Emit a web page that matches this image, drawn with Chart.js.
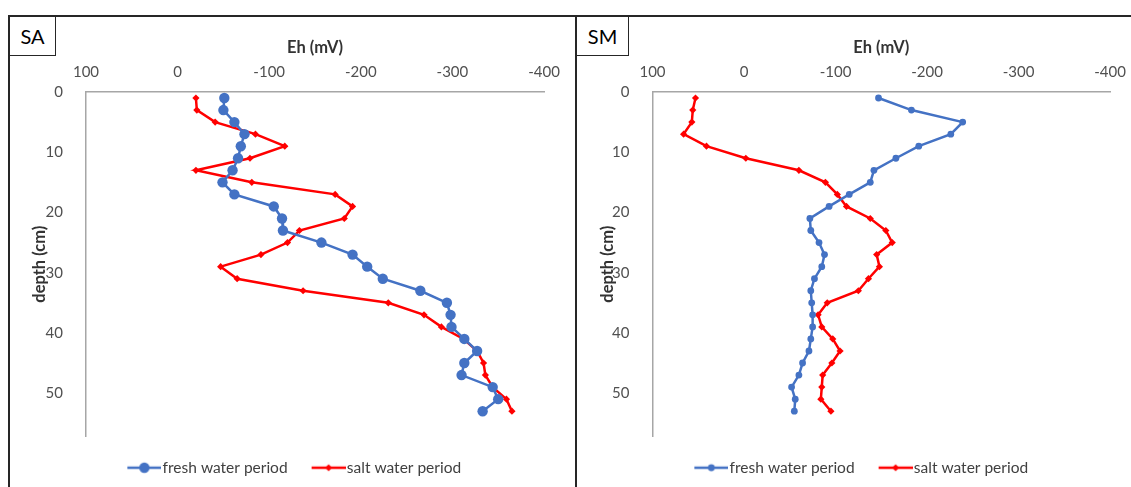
<!DOCTYPE html>
<html>
<head>
<meta charset="utf-8">
<script src="https://cdn.jsdelivr.net/npm/chart.js@4.4.0/dist/chart.umd.min.js"></script>
<style>
  html, body { margin: 0; padding: 0; width: 1131px; height: 487px; overflow: hidden; background: #fff; }
  .line { position: absolute; background: #262626; }
  .tag { position: absolute; box-sizing: border-box; border-right: 1.5px solid #262626; border-bottom: 1.5px solid #262626;
         font-family: Lato, sans-serif; font-size: 20px; color: #000; display: flex; align-items: center; justify-content: center; }
  canvas { position: absolute; top: 16px; }
</style>
</head>
<body>
<div class="line" style="left:8px;top:15px;width:1123px;height:2px"></div>
<div class="line" style="left:8px;top:15px;width:2px;height:472px"></div>
<div class="line" style="left:575px;top:15px;width:2px;height:472px"></div>
<div class="tag" style="left:10px;top:17px;width:46px;height:39px">SA</div>
<div class="tag" style="left:577px;top:17px;width:52px;height:39px">SM</div>
<canvas id="sa" width="566" height="471" style="left:9px"></canvas>
<canvas id="sm" width="555" height="471" style="left:576px"></canvas>
<script>
// depth of each sample (cm)
const depth = [1, 3, 5, 7, 9, 11, 13, 15, 17, 19, 21, 23, 25, 27, 29, 31, 33, 35, 37, 39, 41, 43, 45, 47, 49, 51, 53];

// Eh (mV), station SA
const saFresh = [-51, -50, -62, -73, -69, -66, -60, -49, -62, -105, -114, -115, -157, -191, -207, -224, -265, -294, -298, -299, -313, -327, -313, -310, -344, -350, -333];
const saSalt = [-20, -21, -41, -85, -117, -79, -20, -81, -172, -191, -182, -133, -120, -91, -47, -65, -137, -230, -269, -288, -312, -327, -334, -336, -344, -359, -365];

// Eh (mV), station SM
const smFresh = [-147, -183, -239, -226, -191, -166, -142, -138, -115, -93, -72, -73, -82, -88, -85, -77, -73, -74, -75, -75, -73, -71, -64, -60, -52, -56, -55];
const smSalt = [53, 56, 57, 66, 41, -2, -60, -89, -102, -112, -138, -155, -162, -145, -148, -136, -125, -91, -81, -85, -97, -105, -96, -86, -85, -84, -95];

const seriesNames = ['fresh water period', 'salt water period'];
const BLUE = '#4472C4';
const RED = '#FF0000';

Chart.defaults.font.family = 'Lato, sans-serif';

// legend symbol: short line with the marker on it
function legendIcon(color, style, r) {
  const c = document.createElement('canvas');
  c.width = 41; c.height = 14;
  const g = c.getContext('2d');
  g.strokeStyle = color; g.fillStyle = color; g.lineWidth = 2.5;
  g.beginPath(); g.moveTo(7, 7); g.lineTo(41, 7); g.stroke();
  g.beginPath();
  if (style === 'circle') {
    g.arc(24, 7, r, 0, Math.PI * 2);
  } else {
    g.moveTo(24, 7 - r); g.lineTo(24 + r, 7); g.lineTo(24, 7 + r); g.lineTo(24 - r, 7); g.closePath();
  }
  g.fill();
  return c;
}

function points(vals) {
  return depth.map((d, i) => ({ x: vals[i], y: d }));
}

function makeChart(id, fresh, salt, freshRadius, yWidth, padL, padR) {
  const icons = [legendIcon(BLUE, 'circle', freshRadius), legendIcon(RED, 'diamond', 3.5)];
  return new Chart(document.getElementById(id), {
    type: 'scatter',
    data: {
      datasets: [
        {
          label: seriesNames[0],
          data: points(fresh),
          showLine: true,
          borderColor: BLUE,
          backgroundColor: BLUE,
          borderWidth: 2.5,
          pointRadius: freshRadius,
          pointBorderWidth: 0,
          pointStyle: 'circle'
        },
        {
          label: seriesNames[1],
          data: points(salt),
          showLine: true,
          borderColor: RED,
          backgroundColor: RED,
          borderWidth: 2.5,
          pointRadius: 3.6,
          pointBorderWidth: 0,
          pointStyle: 'rectRot'
        }
      ]
    },
    options: {
      responsive: false,
      animation: false,
      layout: { padding: { left: padL, right: padR, top: 0, bottom: 1.5 } },
      plugins: {
        tooltip: { enabled: false },
        legend: {
          position: 'bottom',
          labels: {
            usePointStyle: true,
            pointStyleWidth: 28,
            padding: 23.5,
            color: '#404040',
            font: { size: 15.5 },
            generateLabels: (chart) => {
              const items = Chart.defaults.plugins.legend.labels.generateLabels(chart);
              items.forEach((it, i) => { it.pointStyle = icons[i]; });
              return items;
            }
          }
        }
      },
      scales: {
        x: {
          type: 'linear',
          position: 'top',
          reverse: true,
          min: -400,
          max: 100,
          ticks: { stepSize: 100, padding: 3, color: '#505050', font: { size: 15 } },
          grid: { display: false },
          border: { display: true, color: '#a6a6a6', width: 1.5 },
          title: { display: true, text: 'Eh (mV)', color: '#333', font: { size: 16.5, weight: 'bold' }, padding: { top: 21.5, bottom: 0 } },
          afterFit: (s) => { s.height = 76; }
        },
        y: {
          type: 'linear',
          reverse: true,
          min: 0,
          max: 57.2,
          ticks: { stepSize: 10, includeBounds: false, padding: 15, color: '#505050', font: { size: 15 } },
          grid: { display: false },
          border: { display: true, color: '#a6a6a6', width: 1.5 },
          title: { display: true, text: 'depth (cm)', color: '#333', font: { size: 16.5, weight: 'bold' }, padding: { top: -14, bottom: 0 } },
          afterFit: (s) => { s.width = yWidth; }
        }
      }
    }
  });
}

makeChart('sa', saFresh, saSalt, 5.2, 42, 35, 31);
makeChart('sm', smFresh, smSalt, 3.4, 40.5, 36, 21);
</script>
</body>
</html>
